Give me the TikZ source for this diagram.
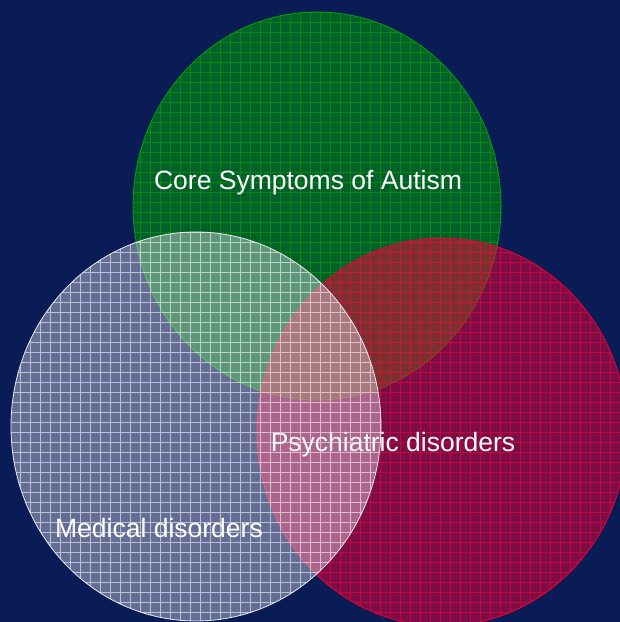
\documentclass[tikz,border=0pt]{standalone}
\usepackage{fontspec}
\setmainfont{Liberation Sans}
\definecolor{navy}{RGB}{10,28,86}
\definecolor{setgreen}{RGB}{0,165,0}
\definecolor{setred}{RGB}{240,0,55}
\definecolor{setwhite}{RGB}{235,235,245}
\begin{document}
\begin{tikzpicture}[x=1pt, y=1pt,
    set fill/.style={#1, opacity=0.5},
    set grid/.style={#1, opacity=0.65, line width=0.6pt, step=10pt},
    set edge/.style={#1, line width=0.8pt},
    set label/.style={text=white, font=\fontsize{26.5}{32}\selectfont, anchor=base}]
    % Background
    \fill[navy] (0,0) rectangle (620,622);
    \useasboundingbox (0,0) rectangle (620,622);

    % Core symptoms
    \begin{scope}
        \clip (317,416) ellipse [x radius=184pt, y radius=194pt];
        \fill[set fill=setgreen] (0,0) rectangle (620,622);
        \draw[set grid=setgreen] (0,0) grid (620,622);
    \end{scope}
    \draw[set edge=setgreen] (317,416) ellipse [x radius=184pt, y radius=194pt];
    \node[set label] (core) at (308,432) {Core Symptoms of Autism};

    % Psychiatric disorders
    \begin{scope}
        \clip (442,190) ellipse [x radius=185pt, y radius=194pt];
        \fill[set fill=setred] (0,0) rectangle (640,622);
        \draw[set grid=setred] (0,0) grid (640,622);
    \end{scope}
    \draw[set edge=setred] (442,190) ellipse [x radius=185pt, y radius=194pt];
    \node[set label] (psych) at (393,170) {Psychiatric disorders};

    % Medical disorders
    \begin{scope}
        \clip (196,195.5) ellipse [x radius=185pt, y radius=194.5pt];
        \fill[set fill=setwhite, opacity=0.4] (0,0) rectangle (620,622);
        \draw[set grid=setwhite] (0,0) grid (620,622);
    \end{scope}
    \draw[set edge=setwhite] (196,195.5) ellipse [x radius=185pt, y radius=194.5pt];
    \node[set label] (medical) at (159,84) {Medical disorders};
\end{tikzpicture}
\end{document}
